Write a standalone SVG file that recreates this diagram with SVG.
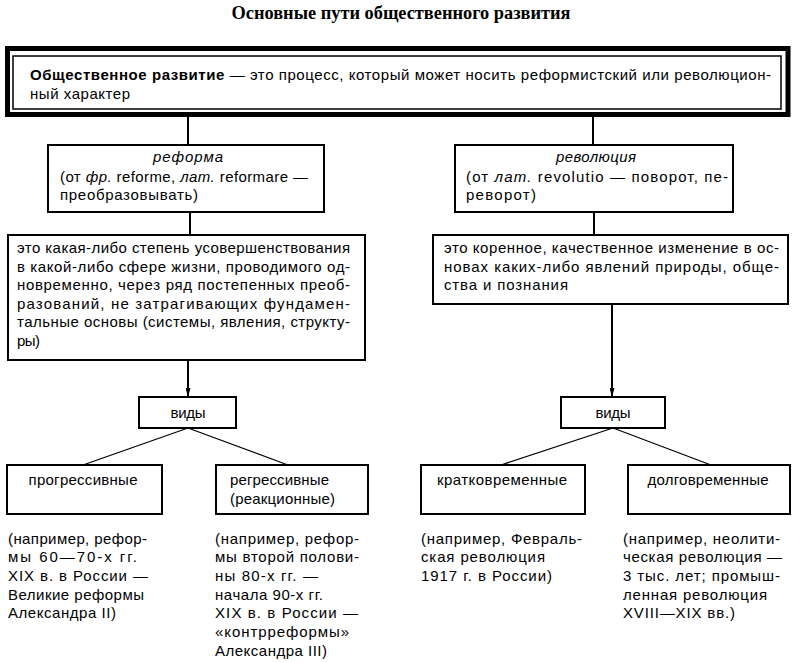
<svg xmlns="http://www.w3.org/2000/svg" width="794" height="663" viewBox="0 0 794 663">
<style>
.box{fill:#fff;stroke:#000;stroke-width:2}
.t{font-family:"Liberation Sans",Arial,sans-serif;font-size:15px;fill:#000}
.m{text-anchor:middle}
.i{font-style:italic}
.b{font-weight:bold}
.c{stroke:#000;stroke-width:2;fill:none}
.f{stroke:#000;stroke-width:1.3;fill:none}
.title{font-family:"Liberation Serif","Times New Roman",serif;font-size:18px;font-weight:bold;text-anchor:middle}
</style>
<defs>
<marker id="arr" markerUnits="userSpaceOnUse" markerWidth="9" markerHeight="5" refX="9" refY="2.5" orient="auto">
<path d="M0,0 L9,2.5 L0,5 z" fill="#000"/>
</marker>
</defs>
<rect width="794" height="663" fill="#fff"/>
<text class="title" x="401" y="19" textLength="339" lengthAdjust="spacingAndGlyphs">Основные пути общественного развития</text>

<g id="connectors">
<line class="c" x1="188" y1="117" x2="188" y2="145"/>
<line class="c" x1="593" y1="117" x2="593" y2="145"/>
<line class="c" x1="190" y1="212" x2="190" y2="235"/>
<line class="c" x1="594" y1="212" x2="594" y2="235"/>
<line class="c" x1="188" y1="360" x2="188" y2="397" marker-end="url(#arr)"/>
<line class="c" x1="612" y1="304" x2="612" y2="397" marker-end="url(#arr)"/>
<line class="f" x1="188" y1="428" x2="83" y2="465"/>
<line class="f" x1="188" y1="428" x2="288" y2="465"/>
<line class="f" x1="613" y1="428" x2="501" y2="465"/>
<line class="f" x1="613" y1="428" x2="711" y2="465"/>
</g>

<g id="top">
<rect x="7.5" y="48.5" width="780.5" height="66" fill="#fff" stroke="#000" stroke-width="5"/>
<rect x="13" y="56" width="768" height="53" fill="none" stroke="#000" stroke-width="1.5"/>
<text class="t" x="30" y="80" textLength="741"><tspan class="b">Общественное развитие</tspan> — это процесс, который может носить реформистский или революцион-</text>
<text class="t" x="30" y="99" textLength="100">ный характер</text>
</g>

<g id="reform">
<rect class="box" x="48" y="145" width="276" height="67"/>
<text class="t m i" x="188" y="162" textLength="70">реформа</text>
<text class="t" x="60" y="182" textLength="248">(от <tspan class="i">фр.</tspan> reforme, <tspan class="i">лат.</tspan> reformare —</text>
<text class="t" x="60" y="200" textLength="138">преобразовывать)</text>
</g>

<g id="revolution">
<rect class="box" x="455" y="145" width="278" height="67"/>
<text class="t m i" x="596" y="162" textLength="80">революция</text>
<text class="t" x="466" y="182" textLength="262">(от <tspan class="i">лат.</tspan> revolutio — поворот, пе-</text>
<text class="t" x="466" y="200" textLength="70">реворот)</text>
</g>

<g id="reform-def">
<rect class="box" x="8" y="235" width="357" height="125"/>
<text class="t" x="17" y="253" textLength="333">это какая-либо степень усовершенствования</text>
<text class="t" x="17" y="271.5" textLength="333">в какой-либо сфере жизни, проводимого од-</text>
<text class="t" x="17" y="290" textLength="333">новременно, через ряд постепенных преоб-</text>
<text class="t" x="17" y="308.5" textLength="333">разований, не затрагивающих фундамен-</text>
<text class="t" x="17" y="327" textLength="333">тальные основы (системы, явления, структу-</text>
<text class="t" x="17" y="345.5" textLength="23">ры)</text>
</g>

<g id="revolution-def">
<rect class="box" x="433" y="235" width="355" height="69"/>
<text class="t" x="444" y="253" textLength="335">это коренное, качественное изменение в ос-</text>
<text class="t" x="444" y="271.5" textLength="335">новах каких-либо явлений природы, обще-</text>
<text class="t" x="444" y="290" textLength="124">ства и познания</text>
</g>

<g id="types-reform">
<rect class="box" x="139" y="397" width="97" height="31"/>
<text class="t m" x="188" y="418" textLength="35">виды</text>
</g>
<g id="types-revolution">
<rect class="box" x="561" y="397" width="104" height="31"/>
<text class="t m" x="613" y="418" textLength="35">виды</text>
</g>

<g id="progressive">
<rect class="box" x="7" y="465" width="155" height="49"/>
<text class="t m" x="83" y="485" textLength="109">прогрессивные</text>
</g>
<g id="regressive">
<rect class="box" x="216" y="465" width="152" height="49"/>
<text class="t" x="230" y="485" textLength="99">регрессивные</text>
<text class="t" x="230" y="504" textLength="105">(реакционные)</text>
</g>
<g id="short">
<rect class="box" x="421" y="465" width="164" height="49"/>
<text class="t m" x="502" y="485" textLength="130">кратковременные</text>
</g>
<g id="long">
<rect class="box" x="628" y="465" width="162" height="49"/>
<text class="t m" x="708" y="485" textLength="121">долговременные</text>
</g>

<g id="ex-progressive">
<text class="t" x="8" y="543.5" textLength="139">(например, рефор-</text>
<text class="t" x="8" y="562.2" textLength="129">мы 60—70-х гг.</text>
<text class="t" x="8" y="580.9" textLength="140">XIX в. в России —</text>
<text class="t" x="8" y="599.6" textLength="136">Великие реформы</text>
<text class="t" x="8" y="618.3" textLength="108">Александра II)</text>
</g>
<g id="ex-regressive">
<text class="t" x="215" y="543.5" textLength="144">(например, рефор-</text>
<text class="t" x="215" y="562.2" textLength="144">мы второй полови-</text>
<text class="t" x="215" y="580.9" textLength="103">ны 80-х гг. —</text>
<text class="t" x="215" y="599.6" textLength="108">начала 90-х гг.</text>
<text class="t" x="215" y="618.3" textLength="143">XIX в. в России —</text>
<text class="t" x="215" y="637" textLength="134">«контрреформы»</text>
<text class="t" x="215" y="655.7" textLength="112">Александра III)</text>
</g>
<g id="ex-short">
<text class="t" x="421" y="543.5" textLength="161">(например, Февраль-</text>
<text class="t" x="421" y="562.2" textLength="124">ская  революция</text>
<text class="t" x="421" y="580.9" textLength="131">1917 г. в России)</text>
</g>
<g id="ex-long">
<text class="t" x="623" y="543.5" textLength="157">(например, неолити-</text>
<text class="t" x="623" y="562.2" textLength="159">ческая революция —</text>
<text class="t" x="623" y="580.9" textLength="157">3 тыс. лет; промыш-</text>
<text class="t" x="623" y="599.6" textLength="144">ленная революция</text>
<text class="t" x="623" y="618.3" textLength="112">XVIII—XIX вв.)</text>
</g>
</svg>
